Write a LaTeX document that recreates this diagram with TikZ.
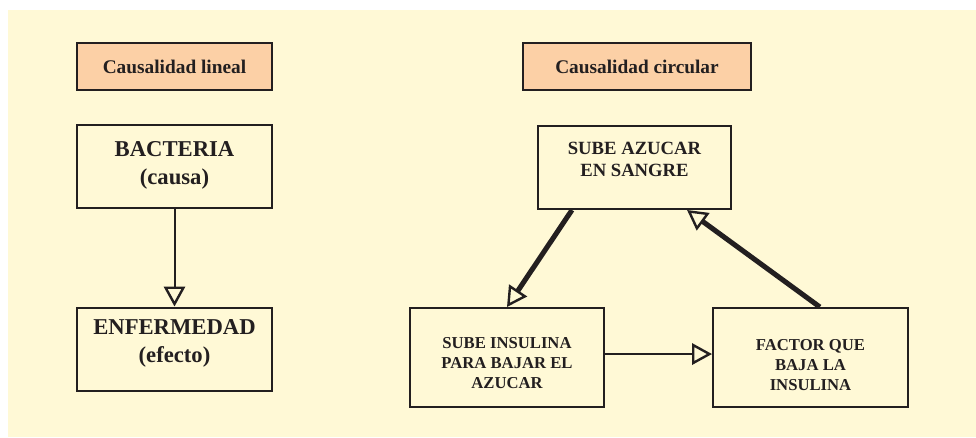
\documentclass[tikz,border=0pt]{standalone}
\usepackage{fontspec}
\setmainfont{Liberation Serif}
\usetikzlibrary{arrows.meta}
\definecolor{crema}{RGB}{255,249,214}
\definecolor{salmon}{RGB}{252,208,166}
\definecolor{trazo}{RGB}{35,31,32}
\begin{document}
\begin{tikzpicture}[x=0.75pt,y=-0.75pt,
  caja/.style={draw=trazo,line width=1.5pt,inner sep=0pt,minimum width=146.25pt},
  titulo/.style={caja,fill=salmon,minimum height=35.25pt,text=trazo,font=\fontsize{14.5}{17}\selectfont\bfseries},
  texto/.style={align=center,text=trazo,inner sep=0pt},
  grande/.style={texto,font=\fontsize{17}{21}\selectfont\bfseries},
  media/.style={texto,font=\fontsize{14}{16.5}\selectfont\bfseries},
  chica/.style={texto,font=\fontsize{12.5}{15}\selectfont\bfseries},
  flecha/.style={draw=trazo,line width=1.5pt,-{Triangle[open,length=15pt,width=16pt,line width=1.8pt]}},
  gruesa/.style={flecha,line width=3.8pt}]
\useasboundingbox (0,0) rectangle (976,437);
\fill[crema] (8,10) rectangle (976,437);
% titulos
\node[titulo] (lineal) at (174.5,66.5) {Causalidad lineal};
\node[titulo,minimum width=171pt] (circular) at (637,66.5) {Causalidad circular};
% causalidad lineal
\node[caja,minimum height=62.25pt] (bacteria) at (174.5,166.5) {};
\node[grande] (bacteria-t) at ([yshift=0.5pt]bacteria.center) {BACTERIA\\(causa)};
\node[caja,minimum height=62.25pt] (enfermedad) at (174.5,349) {};
\node[grande] (enfermedad-t) at ([yshift=4pt]enfermedad.center) {ENFERMEDAD\\(efecto)};
\draw[flecha] (bacteria.south) -- (enfermedad.north);
% causalidad circular
\node[caja,minimum width=144.75pt,minimum height=62.25pt] (azucar) at (634.5,167.5) {};
\node[media] (azucar-t) at ([yshift=6.4pt]azucar.center) {SUBE AZUCAR\\EN SANGRE};
\node[caja,minimum width=145.5pt,minimum height=74.25pt] (insulina) at (507,357.5) {};
\node[chica] (insulina-t) at ([yshift=-4.1pt]insulina.center) {SUBE INSULINA\\PARA BAJAR EL\\AZUCAR};
\node[caja,minimum height=74.25pt] (factor) at (810.5,357.5) {};
\node[chica] (factor-t) at ([yshift=-5.6pt]factor.center) {FACTOR QUE\\BAJA LA\\INSULINA};
\draw[gruesa] ([xshift=-46.9pt]azucar.south) -- (insulina.north);
\draw[flecha] ([yshift=2.6pt]insulina.east) -- ([yshift=2.6pt]factor.west);
\draw[gruesa] ([xshift=7pt]factor.north) -- ([xshift=39.4pt]azucar.south);
\end{tikzpicture}
\end{document}
